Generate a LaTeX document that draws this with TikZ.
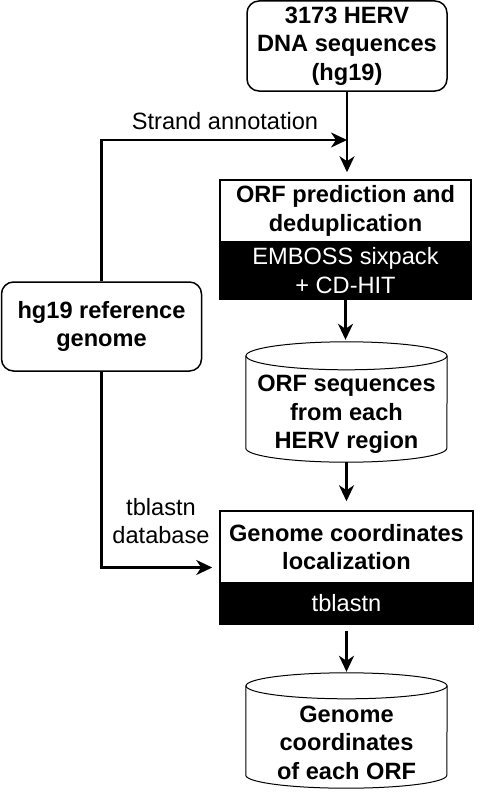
\documentclass[tikz,border=0pt]{standalone}
\usepackage{fontspec}
\setmainfont{Liberation Sans}
\usetikzlibrary{arrows.meta,calc}
\begin{document}
\begin{tikzpicture}[x=1pt,y=-1pt,
 txt/.style={font=\fontsize{23.6}{28.6}\selectfont, align=center, inner sep=0pt},
 bold/.style={txt, font=\fontsize{23.6}{28.6}\selectfont\bfseries},
 rbox/.style={bold, draw, line width=1.5pt, rounded corners=12pt, fill=white},
 wbox/.style={bold, draw, line width=1.5pt, fill=white},
 bbox/.style={txt, fill=black, draw=black, line width=1.5pt, text=white},
 arr/.style={-{Stealth[length=16pt,width=15pt,inset=5pt]}, line width=2.5pt},
 cyl/.style={line width=1pt}
]
\useasboundingbox (0,0) rectangle (486,792);

% top box
\node[rbox, minimum width=200pt, minimum height=90pt] (top) at (347,46) {3173 HERV\\DNA sequences\\(hg19)};

% ORF prediction box
\node[wbox, minimum width=251pt, minimum height=62pt] (orf) at (345.5,211) {ORF prediction and\\deduplication};
\node[bbox, minimum width=251pt, minimum height=57pt] (orfb) at (345.5,270.5) {EMBOSS sixpack\\+ CD-HIT};

% cylinder 1
\node[minimum width=201pt, minimum height=120pt, inner sep=0pt] (c1) at (346.5,402) {};
\draw[cyl] ($(c1.north west)+(0,14)$) -- ($(c1.south west)+(0,-14)$)
  arc[start angle=180,end angle=360,x radius=100.5pt,y radius=14pt]
  -- ($(c1.north east)+(0,14)$);
\draw[cyl] ($(c1.north)+(0,14)$) ellipse[x radius=100.5pt, y radius=14pt];
\node[bold] (c1t) at (346.5,414.5) {ORF sequences\\from each\\HERV region};

% genome coordinates box
\node[wbox, minimum width=253pt, minimum height=72pt] (gen) at (346.5,547) {Genome coordinates\\localization};
\node[bbox, minimum width=253pt, minimum height=41pt] (genb) at (346.5,603.5) {tblastn};
\coordinate (gmid) at ($(gen.north west)!0.5!(genb.south west)$);

% cylinder 2
\node[minimum width=201pt, minimum height=115pt, inner sep=0pt] (c2) at (346.5,730.5) {};
\draw[cyl] ($(c2.north west)+(0,13)$) -- ($(c2.south west)+(0,-13)$)
  arc[start angle=180,end angle=360,x radius=100.5pt,y radius=13pt]
  -- ($(c2.north east)+(0,13)$);
\draw[cyl] ($(c2.north)+(0,13)$) ellipse[x radius=100.5pt, y radius=13pt];
\node[bold] (c2t) at (346.5,742.5) {Genome\\coordinates\\of each ORF};

% hg19 reference genome
\node[rbox, minimum width=200pt, minimum height=89pt] (hg) at (101.5,326.5) {hg19 reference\\genome};

% labels
\node[txt] (sa) at (225,121) {Strand annotation};
\node[txt] (tdb) at (161,521) {tblastn\\database};

% connectors
\coordinate (sj) at (top.south |- 0,140);
\draw[arr, shorten >=7pt] (top.south) -- (top.south |- orf.north);
\draw[arr] (hg.north) |- (sj);
\draw[arr, shorten >=2pt] (orfb.south) -- (orfb.south |- c1.north);
\draw[arr, shorten >=9pt] (c1.south) -- (c1.south |- gen.north);
\draw[arr, shorten <=6pt, shorten >=1pt] (genb.south) -- (genb.south |- c2.north);
\draw[arr, shorten >=7pt] (hg.south) |- (gmid);
\end{tikzpicture}
\end{document}
